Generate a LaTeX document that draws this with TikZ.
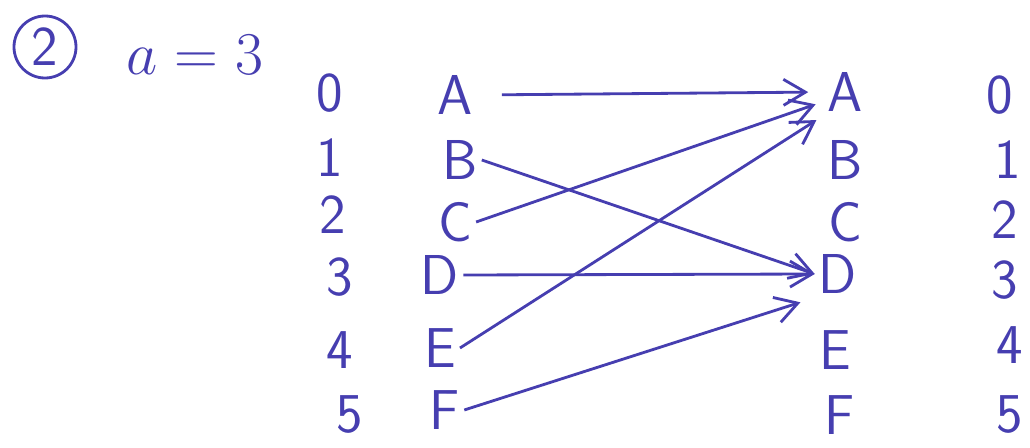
\documentclass[tikz,border=0pt]{standalone}
\usetikzlibrary{arrows.meta}
\definecolor{ink}{RGB}{70,62,176}
\tikzset{
  sym/.style={text=ink, font=\fontsize{16}{19}\selectfont\sffamily, inner sep=1pt},
  map/.style={draw=ink, line width=0.8pt, -{Straight Barb[length=2.2mm, width=2.6mm]}}
}
\begin{document}
\begin{tikzpicture}
  \useasboundingbox (0,0) rectangle (10.30,4.47);
  % heading
  \node[sym, draw=ink, line width=0.8pt, circle, minimum size=0.62cm, inner sep=0pt] (num) at (0.45,4.00) {2};
  \node[sym] (key) at (1.95,3.92) {$a = 3$};
  % left column
  \node[sym] (ln0) at (3.30,3.54) {0};
  \node[sym] (ln1) at (3.30,2.89) {1};
  \node[sym] (ln2) at (3.33,2.32) {2};
  \node[sym] (ln3) at (3.40,1.70) {3};
  \node[sym] (ln4) at (3.40,0.97) {4};
  \node[sym] (ln5) at (3.50,0.32) {5};
  \node[sym] (lA) at (4.55,3.52) {A};
  \node[sym] (lB) at (4.60,2.87) {B};
  \node[sym] (lC) at (4.55,2.25) {C};
  \node[sym] (lD) at (4.40,1.72) {D};
  \node[sym] (lE) at (4.40,0.99) {E};
  \node[sym] (lF) at (4.45,0.37) {F};
  % right column
  \node[sym] (rA) at (8.45,3.55) {A};
  \node[sym] (rB) at (8.45,2.87) {B};
  \node[sym] (rC) at (8.45,2.25) {C};
  \node[sym] (rD) at (8.38,1.73) {D};
  \node[sym] (rE) at (8.35,0.97) {E};
  \node[sym] (rF) at (8.40,0.32) {F};
  \node[sym] (rn0) at (10.00,3.52) {0};
  \node[sym] (rn1) at (10.08,2.87) {1};
  \node[sym] (rn2) at (10.05,2.27) {2};
  \node[sym] (rn3) at (10.05,1.67) {3};
  \node[sym] (rn4) at (10.10,1.02) {4};
  \node[sym] (rn5) at (10.10,0.32) {5};
  % shifts
  \draw[map, shorten <=0.25cm, shorten >=0.15cm] (lA.east) -- (rA.west);
  \draw[map] (lB.east) -- (rD.west);
  \draw[map, shorten >=0.08cm] (lC.east) -- ([yshift=4pt]rA.south west);
  \draw[map] (lD.east) -- (rD.west);
  \draw[map, shorten >=0.08cm] (lE.east) -- (rA.south west);
  \draw[map, shorten >=0.15cm] (lF.east) -- (rD.south west);
\end{tikzpicture}
\end{document}
